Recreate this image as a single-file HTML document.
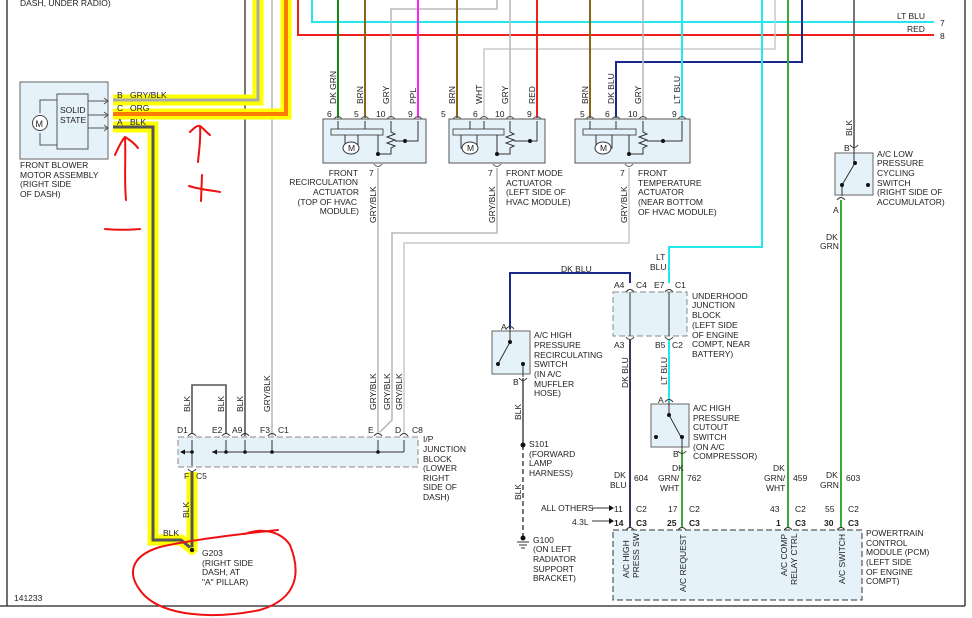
<!DOCTYPE html>
<html><head><meta charset="utf-8"><style>
html,body{margin:0;padding:0;background:#fff;}
svg{display:block;}
text{font-family:"Liberation Sans",Arial,sans-serif;font-size:8.5px;fill:#222;}
</style></head><body>
<svg width="972" height="618" viewBox="0 0 972 618" xmlns="http://www.w3.org/2000/svg">
<g fill="none">
<!-- borders -->
<line x1="7" y1="0" x2="7" y2="606" stroke="#222" stroke-width="1.3"/>
<line x1="965" y1="0" x2="965" y2="606" stroke="#222" stroke-width="1.3"/>
<line x1="0" y1="606" x2="965" y2="606" stroke="#222" stroke-width="1.3"/>

<!-- top horizontals -->
<polyline points="312,0 312,22 934,22" stroke="#22e8ee" stroke-width="2"/>
<polyline points="298,0 298,35 934,35" stroke="#ee2020" stroke-width="2"/>

<!-- left verticals -->
<line x1="245" y1="0" x2="245" y2="436" stroke="#555" stroke-width="1.6"/>
<line x1="272" y1="0" x2="272" y2="436" stroke="#bbb" stroke-width="1.6"/>

<!-- highlighted wires -->
<polyline points="113,100 258,100 258,0" stroke="#ffff00" stroke-width="11"/>
<polyline points="113,114 286,114 286,0" stroke="#ffff00" stroke-width="11"/>
<polyline points="113,127 153,127 153,540 181,540 192,549" stroke="#ffff00" stroke-width="11"/>
<line x1="192" y1="472" x2="192" y2="552" stroke="#ffff00" stroke-width="11"/>
<polyline points="113,100 258,100 258,0" stroke="#aaa" stroke-width="3"/>
<polyline points="113,114 286,114 286,0" stroke="#ff7a00" stroke-width="4"/>
<polyline points="113,127 153,127 153,540 181,540 192,549" stroke="#555" stroke-width="3"/>
<line x1="192" y1="472" x2="192" y2="549" stroke="#555" stroke-width="3"/>

<!-- actuator 1 wires -->
<line x1="338" y1="0" x2="338" y2="118" stroke="#138a13" stroke-width="2"/>
<line x1="365" y1="0" x2="365" y2="118" stroke="#8a6418" stroke-width="2"/>
<polyline points="391,118 391,9 497,9 497,0" stroke="#bbb" stroke-width="1.6"/>
<line x1="418" y1="0" x2="418" y2="118" stroke="#ff22ee" stroke-width="2"/>
<!-- actuator 2 wires -->
<line x1="457" y1="0" x2="457" y2="118" stroke="#8a6418" stroke-width="2"/>
<polyline points="484,118 484,49 775,49 775,0" stroke="#ccc" stroke-width="1.6"/>
<line x1="510" y1="0" x2="510" y2="118" stroke="#bbb" stroke-width="1.6"/>
<line x1="537" y1="0" x2="537" y2="118" stroke="#ee2020" stroke-width="2"/>
<!-- actuator 3 wires -->
<line x1="590" y1="0" x2="590" y2="118" stroke="#8a6418" stroke-width="2"/>
<polyline points="616,118 616,62 802,62 802,0" stroke="#1a2a8a" stroke-width="2"/>
<line x1="643" y1="0" x2="643" y2="118" stroke="#bbb" stroke-width="1.6"/>
<line x1="682" y1="0" x2="682" y2="118" stroke="#22e8ee" stroke-width="2"/>

<!-- right side verticals -->
<polyline points="762,0 762,247 669,247 669,283" stroke="#22e8ee" stroke-width="2"/>
<line x1="788" y1="0" x2="788" y2="528" stroke="#3aa83a" stroke-width="2"/>
<line x1="854" y1="0" x2="854" y2="150" stroke="#555" stroke-width="1.6"/>
<line x1="841" y1="200" x2="841" y2="528" stroke="#3aa83a" stroke-width="2"/>

<!-- GRY/BLK down to IP -->
<line x1="378" y1="168" x2="378" y2="434" stroke="#bbb" stroke-width="1.6"/>
<polyline points="497,168 497,233 392,233 392,420 380,432" stroke="#bbb" stroke-width="1.6"/>
<polyline points="629,168 629,243 404,243 404,434" stroke="#ccc" stroke-width="1.6"/>
<!-- BLK loop -->
<polyline points="192,434 192,385 226,385 226,434" stroke="#555" stroke-width="1.6"/>

<!-- DK BLU to recirc switch -->
<polyline points="630,283 630,273 510,273 510,329" stroke="#1a2a8a" stroke-width="2"/>
<line x1="630" y1="340" x2="630" y2="528" stroke="#333a5a" stroke-width="2"/>
<line x1="669" y1="340" x2="669" y2="402" stroke="#22e8ee" stroke-width="2"/>
<line x1="682" y1="450" x2="682" y2="528" stroke="#3aa83a" stroke-width="2"/>
<line x1="523" y1="378" x2="523" y2="445" stroke="#555" stroke-width="1.6"/>
<line x1="523" y1="445" x2="523" y2="538" stroke="#555" stroke-width="1.6" stroke-dasharray="5,3"/>
</g>

<!-- blower box -->
<rect x="20" y="82" width="88" height="77" fill="#e6f2fa" stroke="#666"/>
<rect x="57" y="94" width="31" height="55" fill="#e6f2fa" stroke="#555"/>
<polyline points="57,100 40,100 40,113 M0,0" fill="none" stroke="#555"/>
<path d="M57,100 H40 V113 M40,133 V145 H57" fill="none" stroke="#555"/>
<circle cx="40" cy="123" r="7.5" fill="#fff" stroke="#444"/>
<text x="35.5" y="127" style="font-size:9px">M</text>
<path d="M88,101 H108 M88,115 H108 M88,128 H108" stroke="#555" fill="none"/>
<path d="M104,98 l4,3 -4,3 M104,112 l4,3 -4,3 M104,125 l4,3 -4,3" stroke="#555" fill="none"/>
<text x="60" y="113">SOLID</text><text x="60" y="123">STATE</text>
<text x="117" y="98">B</text><text x="130" y="98">GRY/BLK</text>
<text x="117" y="111">C</text><text x="130" y="111">ORG</text>
<text x="117" y="125">A</text><text x="130" y="125">BLK</text>
<text x="20" y="168">FRONT BLOWER</text><text x="20" y="178">MOTOR ASSEMBLY</text>
<text x="20" y="187">(RIGHT SIDE</text><text x="20" y="197">OF DASH)</text>
<text x="20" y="6">DASH, UNDER RADIO)</text>

<!-- actuators -->
<g fill="none" stroke="#555">
<rect x="323" y="119" width="103" height="44" fill="#e6f2fa"/>
<rect x="331" y="129" width="52" height="6" fill="#e6f2fa"/>
<rect x="449" y="119" width="96" height="44" fill="#e6f2fa"/>
<rect x="453" y="129" width="51" height="6" fill="#e6f2fa"/>
<rect x="575" y="119" width="115" height="44" fill="#e6f2fa"/>
<rect x="583" y="129" width="53" height="6" fill="#e6f2fa"/>
</g>
<g stroke="#333" fill="none" stroke-width="1">
<!-- act1 internals -->
<path d="M338,129 V121 M365,129 V121 M345,135 V148 H358 V135 M378,135 V154 M391,121 V132 l4,2 -8,3 8,3 -8,3 8,3 -4,2 V154 H378 M418,121 V141 H395"/>
<path d="M470,129 V121 M484,129 V121 M461,135 V148 H477 V135 M497,135 V154 M510,121 V132 l4,2 -8,3 8,3 -8,3 8,3 -4,2 V154 H497 M537,121 V141 H514"/>
<path d="M590,129 V121 M616,129 V121 M596,135 V148 H612 V135 M629,135 V154 M643,121 V132 l4,2 -8,3 8,3 -8,3 8,3 -4,2 V154 H629 M682,121 V141 H647"/>
</g>
<g fill="#fff" stroke="#333">
<ellipse cx="351" cy="148" rx="8" ry="6"/><ellipse cx="470" cy="148" rx="8" ry="6"/><ellipse cx="603" cy="148" rx="8" ry="6"/>
</g>
<g style="font-size:7px"><text x="348" y="151">M</text><text x="467" y="151">M</text><text x="600" y="151">M</text></g>
<g fill="#111">
<circle cx="378" cy="154" r="2"/><circle cx="405" cy="141" r="2"/>
<circle cx="497" cy="154" r="2"/><circle cx="530" cy="141" r="2"/>
<circle cx="629" cy="154" r="2"/><circle cx="663" cy="141" r="2"/>
</g>
<!-- connector arcs top -->
<g fill="none" stroke="#555" stroke-width="1">
<path d="M334,119 q4,-5 8,0 M361,119 q4,-5 8,0 M387,119 q4,-5 8,0 M414,119 q4,-5 8,0"/>
<path d="M453,119 q4,-5 8,0 M480,119 q4,-5 8,0 M506,119 q4,-5 8,0 M533,119 q4,-5 8,0"/>
<path d="M586,119 q4,-5 8,0 M612,119 q4,-5 8,0 M639,119 q4,-5 8,0 M678,119 q4,-5 8,0"/>
<path d="M374,164 q4,5 8,0 M493,164 q4,5 8,0 M625,164 q4,5 8,0"/>
</g>
<g>
<text x="327" y="117">6</text><text x="354" y="117">5</text><text x="376" y="117">10</text><text x="408" y="117">9</text>
<text x="441" y="117">5</text><text x="473" y="117">6</text><text x="495" y="117">10</text><text x="527" y="117">9</text>
<text x="580" y="117">5</text><text x="605" y="117">6</text><text x="628" y="117">10</text><text x="672" y="117">9</text>
<text x="369" y="176">7</text><text x="488" y="176">7</text><text x="620" y="176">7</text>
</g>
<g>
<text transform="translate(336,104) rotate(-90)">DK GRN</text>
<text transform="translate(363,104) rotate(-90)">BRN</text>
<text transform="translate(389,104) rotate(-90)">GRY</text>
<text transform="translate(416,104) rotate(-90)">PPL</text>
<text transform="translate(455,104) rotate(-90)">BRN</text>
<text transform="translate(482,104) rotate(-90)">WHT</text>
<text transform="translate(508,104) rotate(-90)">GRY</text>
<text transform="translate(535,104) rotate(-90)">RED</text>
<text transform="translate(588,104) rotate(-90)">BRN</text>
<text transform="translate(614,104) rotate(-90)">DK BLU</text>
<text transform="translate(641,104) rotate(-90)">GRY</text>
<text transform="translate(680,104) rotate(-90)">LT BLU</text>
<text transform="translate(376,223) rotate(-90)">GRY/BLK</text>
<text transform="translate(495,223) rotate(-90)">GRY/BLK</text>
<text transform="translate(627,223) rotate(-90)">GRY/BLK</text>
</g>
<g text-anchor="end">
<text x="358" y="176">FRONT</text><text x="358" y="185">RECIRCULATION</text><text x="359" y="195">ACTUATOR</text>
<text x="357" y="205">(TOP OF HVAC</text><text x="359" y="214">MODULE)</text>
</g>
<text x="506" y="176">FRONT MODE</text><text x="506" y="186">ACTUATOR</text><text x="506" y="195">(LEFT SIDE OF</text><text x="506" y="205">HVAC MODULE)</text>
<text x="638" y="176">FRONT</text><text x="638" y="186">TEMPERATURE</text><text x="638" y="195">ACTUATOR</text><text x="638" y="205">(NEAR BOTTOM</text><text x="638" y="215">OF HVAC MODULE)</text>

<text x="897" y="19">LT BLU</text><text x="940" y="26">7</text>
<text x="907" y="32">RED</text><text x="940" y="39">8</text>

<!-- low pressure switch -->
<rect x="835" y="153" width="38" height="42" fill="#e6f2fa" stroke="#666"/>
<g stroke="#333" fill="none"><path d="M854,150 V163 M855,163 L842,185 M842,185 V196 M850,145 q4,5 8,0" /><path d="M837,200 q4,-5 8,0"/></g>
<g fill="#111"><circle cx="855" cy="163" r="2"/><circle cx="842" cy="185" r="2"/><circle cx="868" cy="185" r="2"/></g>
<text x="844" y="151">B</text><text x="833" y="213">A</text>
<text transform="translate(852,136) rotate(-90)">BLK</text>
<text x="877" y="157">A/C LOW</text><text x="877" y="166">PRESSURE</text><text x="877" y="176">CYCLING</text><text x="877" y="186">SWITCH</text><text x="877" y="195">(RIGHT SIDE OF</text><text x="877" y="205">ACCUMULATOR)</text>
<text x="826" y="240">DK</text><text x="820" y="249">GRN</text>

<!-- I/P junction block -->
<rect x="178" y="437" width="240" height="30" fill="#e6f2fa" stroke="#888" stroke-dasharray="6,3"/>
<g stroke="#333" fill="none">
<path d="M184,452 H192 M212,452 H404 M192,440 V466 M226,440 V452 M245,440 V452 M272,440 V452 M378,440 V452 M404,440 V452"/>
<path d="M188,436 q4,-5 8,0 M222,436 q4,-5 8,0 M241,436 q4,-5 8,0 M268,436 q4,-5 8,0 M374,436 q4,-5 8,0 M400,436 q4,-5 8,0 M188,469 q4,5 8,0"/>
</g>
<g fill="#111"><circle cx="192" cy="452" r="1.8"/><circle cx="226" cy="452" r="1.8"/><circle cx="245" cy="452" r="1.8"/><circle cx="272" cy="452" r="1.8"/><circle cx="378" cy="452" r="1.8"/>
<path d="M180,452 l5,-2.5 v5z"/><path d="M212,452 l5,-2.5 v5z"/></g>
<text x="177" y="433">D1</text><text x="212" y="433">E2</text><text x="232" y="433">A9</text><text x="260" y="433">F3</text><text x="278" y="433">C1</text>
<text x="368" y="433">E</text><text x="395" y="433">D</text><text x="412" y="433">C8</text>
<text x="184" y="479">F</text><text x="196" y="479">C5</text>
<text x="423" y="442">I/P</text><text x="423" y="452">JUNCTION</text><text x="423" y="462">BLOCK</text><text x="423" y="471">(LOWER</text><text x="423" y="481">RIGHT</text><text x="423" y="490">SIDE OF</text><text x="423" y="500">DASH)</text>
<text transform="translate(190,412) rotate(-90)">BLK</text>
<text transform="translate(224,412) rotate(-90)">BLK</text>
<text transform="translate(243,412) rotate(-90)">BLK</text>
<text transform="translate(270,412) rotate(-90)">GRY/BLK</text>
<text transform="translate(376,410) rotate(-90)">GRY/BLK</text>
<text transform="translate(390,410) rotate(-90)">GRY/BLK</text>
<text transform="translate(402,410) rotate(-90)">GRY/BLK</text>
<text transform="translate(189,518) rotate(-90)">BLK</text>
<text x="163" y="536">BLK</text>
<circle cx="192" cy="551" r="4" fill="#ffff00"/><circle cx="192" cy="550" r="2.2" fill="#111"/>
<text x="202" y="556">G203</text><text x="202" y="566">(RIGHT SIDE</text><text x="202" y="575">DASH, AT</text><text x="202" y="585">"A" PILLAR)</text>
<text x="14" y="601">141233</text>

<!-- recirc switch -->
<rect x="492" y="331" width="38" height="43" fill="#e6f2fa" stroke="#666"/>
<g stroke="#333" fill="none"><path d="M510,329 V342 M510,342 L498,364 M523,364 V377 M506,329 q4,-5 8,0 M519,378 q4,5 8,0"/></g>
<g fill="#111"><circle cx="510" cy="342" r="2"/><circle cx="498" cy="364" r="2"/><circle cx="523" cy="364" r="2"/></g>
<text x="501" y="330">A</text><text x="513" y="385">B</text>
<text x="534" y="338">A/C HIGH</text><text x="534" y="348">PRESSURE</text><text x="534" y="358">RECIRCULATING</text><text x="534" y="367">SWITCH</text><text x="534" y="377">(IN A/C</text><text x="534" y="387">MUFFLER</text><text x="534" y="396">HOSE)</text>
<text transform="translate(521,420) rotate(-90)">BLK</text>
<text transform="translate(521,500) rotate(-90)">BLK</text>
<circle cx="523" cy="445" r="2.5" fill="#111"/>
<text x="529" y="447">S101</text><text x="529" y="457">(FORWARD</text><text x="529" y="466">LAMP</text><text x="529" y="476">HARNESS)</text>
<circle cx="523" cy="538" r="2.5" fill="#111"/><path d="M517,542 H529 M519,545 H527 M521,548 H525" stroke="#333"/>
<text x="533" y="543">G100</text><text x="533" y="552">(ON LEFT</text><text x="533" y="562">RADIATOR</text><text x="533" y="572">SUPPORT</text><text x="533" y="581">BRACKET)</text>
<text x="561" y="272">DK BLU</text>

<!-- underhood block -->
<rect x="613" y="292" width="74" height="44" fill="#e6f2fa" stroke="#888" stroke-dasharray="6,3"/>
<g stroke="#333" fill="none"><path d="M630,292 V336 M669,292 V336 M626,292 q4,-5 8,0 M665,292 q4,-5 8,0 M626,337 q4,5 8,0 M665,337 q4,5 8,0"/></g>
<text x="614" y="288">A4</text><text x="636" y="288">C4</text><text x="654" y="288">E7</text><text x="675" y="288">C1</text>
<text x="614" y="348">A3</text><text x="655" y="348">B5</text><text x="672" y="348">C2</text>
<text x="692" y="299">UNDERHOOD</text><text x="692" y="308">JUNCTION</text><text x="692" y="318">BLOCK</text><text x="692" y="328">(LEFT SIDE</text><text x="692" y="338">OF ENGINE</text><text x="692" y="347">COMPT, NEAR</text><text x="692" y="357">BATTERY)</text>
<text x="656" y="260">LT</text><text x="650" y="270">BLU</text>
<text transform="translate(628,388) rotate(-90)">DK BLU</text>
<text transform="translate(667,385) rotate(-90)">LT BLU</text>

<!-- cutout switch -->
<rect x="651" y="404" width="38" height="43" fill="#e6f2fa" stroke="#666"/>
<g stroke="#333" fill="none"><path d="M669,402 V415 M669,415 L681,437 M682,437 V450 M665,402 q4,-5 8,0 M678,451 q4,5 8,0"/></g>
<g fill="#111"><circle cx="669" cy="415" r="2"/><circle cx="682" cy="437" r="2"/><circle cx="656" cy="437" r="2"/></g>
<text x="658" y="403">A</text><text x="673" y="457">B</text>
<text x="693" y="411">A/C HIGH</text><text x="693" y="421">PRESSURE</text><text x="693" y="430">CUTOUT</text><text x="693" y="440">SWITCH</text><text x="693" y="450">(ON A/C</text><text x="693" y="459">COMPRESSOR)</text>

<!-- PCM labels -->
<text x="614" y="478">DK</text><text x="610" y="488">BLU</text><text x="634" y="481">604</text>
<text x="672" y="471">DK</text><text x="658" y="481">GRN/</text><text x="660" y="491">WHT</text><text x="687" y="481">762</text>
<text x="773" y="471">DK</text><text x="764" y="481">GRN/</text><text x="766" y="491">WHT</text><text x="793" y="481">459</text>
<text x="826" y="478">DK</text><text x="820" y="488">GRN</text><text x="846" y="481">603</text>
<text x="541" y="511">ALL OTHERS</text><text x="572" y="525">4.3L</text>
<path d="M592,508 H610 M592,521 H610" stroke="#333"/><path d="M609,505 l5,3 -5,3z M609,518 l5,3 -5,3z" fill="#111"/>
<text x="614" y="512">11</text><text x="614" y="526" font-weight="bold">14</text>
<text x="636" y="512">C2</text><text x="636" y="526" font-weight="bold">C3</text>
<text x="668" y="512">17</text><text x="667" y="526" font-weight="bold">25</text><text x="689" y="512">C2</text><text x="689" y="526" font-weight="bold">C3</text>
<text x="770" y="512">43</text><text x="776" y="526" font-weight="bold">1</text><text x="795" y="512">C2</text><text x="795" y="526" font-weight="bold">C3</text>
<text x="825" y="512">55</text><text x="824" y="526" font-weight="bold">30</text><text x="848" y="512">C2</text><text x="848" y="526" font-weight="bold">C3</text>
<rect x="613" y="530" width="249" height="70" fill="#e6f2fa" stroke="#333" stroke-dasharray="6,3"/>
<g stroke="#333" fill="none"><path d="M626,530 q4,-5 8,0 M678,530 q4,-5 8,0 M784,530 q4,-5 8,0 M837,530 q4,-5 8,0"/></g>
<text transform="translate(629,578) rotate(-90)">A/C HIGH</text>
<text transform="translate(639,578) rotate(-90)">PRESS SW</text>
<text transform="translate(686,592) rotate(-90)">A/C REQUEST</text>
<text transform="translate(787,576) rotate(-90)">A/C COMP</text>
<text transform="translate(797,585) rotate(-90)">RELAY CTRL</text>
<text transform="translate(845,584) rotate(-90)">A/C SWITCH</text>
<text x="866" y="536">POWERTRAIN</text><text x="866" y="546">CONTROL</text><text x="866" y="555">MODULE (PCM)</text><text x="866" y="565">(LEFT SIDE</text><text x="866" y="575">OF ENGINE</text><text x="866" y="584">COMPT)</text>

<!-- red annotations -->
<g stroke="#ee1111" stroke-width="2" fill="none" stroke-linecap="round">
<path d="M126,200 C124,180 126,160 125,137 M115,155 C119,146 122,140 125,137 C130,140 135,144 138,148"/>
<path d="M105,229 C115,230 128,230 140,229"/>
<path d="M198,162 C199,150 201,140 200,126 M190,132 C194,128 197,125 200,126 C203,128 206,132 210,135"/>
<path d="M202,175 L201,201 M189,186 C198,189 208,190 220,192"/>
<path d="M278,530 C240,534 190,540 160,547 C130,556 125,575 145,596 C165,615 210,620 260,610 C300,598 300,570 290,545 C280,530 260,528 245,534"/>
</g>
</svg>
</body></html>
